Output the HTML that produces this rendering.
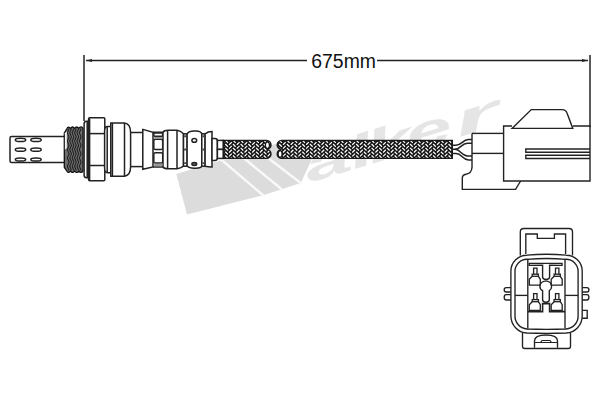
<!DOCTYPE html>
<html><head><meta charset="utf-8">
<style>
html,body{margin:0;padding:0;background:#fff;}
body{width:600px;height:400px;overflow:hidden;}
svg{display:block;}
</style></head><body>
<svg width="600" height="400" viewBox="0 0 600 400">
<defs>
</defs>
<rect width="600" height="400" fill="#fff"/>

<!-- Walker watermark -->
<g id="wm" fill="#e5e5e5">
<polygon fill="#dcdcdc" points="176.3,174 290,139.5 316,150 300.8,183 263.3,195.2 187,214.5"/>
<g font-family="Liberation Sans, sans-serif" font-weight="bold" font-style="italic" font-size="50" transform="translate(309,183) rotate(-17)">
<text transform="translate(0,0) scale(1.687,0.9)">a</text>
<text transform="translate(46.9,0) scale(1.687,0.9)">l</text>
<text transform="translate(65,0) scale(1.687,0.9)">k</text>
<text transform="translate(105.8,0) scale(1.687,0.9)">e</text>
<text transform="translate(156.4,0) scale(2.36,0.9)">r</text>
</g>
</g>
<g stroke="#f9f9f9" stroke-width="2.4">
<line x1="210" y1="150" x2="264.5" y2="196.5"/>
<line x1="223" y1="141" x2="282" y2="189.5"/>
<line x1="246" y1="141" x2="302" y2="184"/>
</g>

<g fill="none" stroke="#222" stroke-width="1.5">
<!-- dimension lines -->
<line x1="84" y1="55" x2="84" y2="121"/>
<line x1="590" y1="55" x2="590" y2="127"/>
<line x1="86" y1="60.5" x2="307" y2="60.5"/>
<line x1="377" y1="60.5" x2="588" y2="60.5"/>
</g>
<path d="M86,60.5 L92,59 L92,62 Z" fill="#222"/>
<path d="M588,60.5 L582,59 L582,62 Z" fill="#222"/>
<text x="311.3" y="67.6" font-family="Liberation Sans, sans-serif" font-size="19.4" fill="#111">675mm</text>

<!-- probe -->
<g fill="#fff" stroke="#222" stroke-width="1.5">
<rect x="10" y="136.5" width="56" height="26" rx="1.5"/>
<ellipse cx="20.5" cy="139.9" rx="5.2" ry="1.6"/>
<ellipse cx="36" cy="139.9" rx="5.2" ry="1.6"/>
<ellipse cx="20.5" cy="149.7" rx="5.2" ry="1.6"/>
<ellipse cx="36" cy="149.7" rx="5.2" ry="1.6"/>
<ellipse cx="20.5" cy="159.5" rx="5.2" ry="1.6"/>
<ellipse cx="36" cy="159.5" rx="5.2" ry="1.6"/>
</g>

<!-- thread -->
<path d="M64.3,133 L66.8,128.8 Q68.4,125.6 70.4,128.4 Q72.6,125.6 74.6,128.4 Q76.8,125.6 78.8,128.4 Q80.7,125.6 83,128.2 L83,171 Q81,173.8 79,171.1 Q76.9,173.8 74.7,171.1 Q72.5,173.8 70.3,171.1 Q68.1,173.8 66.8,171 L64.3,167.2 Z" fill="#6e6e6e" stroke="#111" stroke-width="1.3"/>
<path d="M69.1,128.5 L67.3,132.7 L69.1,136.9 L67.3,141.1 L69.1,145.3 L67.3,149.5 L69.1,153.7 L67.3,157.9 L69.1,162.1 L67.3,166.3 L69.1,170.5 M71.5,128.5 L69.7,132.7 L71.5,136.9 L69.7,141.1 L71.5,145.3 L69.7,149.5 L71.5,153.7 L69.7,157.9 L71.5,162.1 L69.7,166.3 L71.5,170.5 M73.9,128.5 L72.1,132.7 L73.9,136.9 L72.1,141.1 L73.9,145.3 L72.1,149.5 L73.9,153.7 L72.1,157.9 L73.9,162.1 L72.1,166.3 L73.9,170.5 M76.3,128.5 L74.5,132.7 L76.3,136.9 L74.5,141.1 L76.3,145.3 L74.5,149.5 L76.3,153.7 L74.5,157.9 L76.3,162.1 L74.5,166.3 L76.3,170.5 M78.7,128.5 L76.9,132.7 L78.7,136.9 L76.9,141.1 L78.7,145.3 L76.9,149.5 L78.7,153.7 L76.9,157.9 L78.7,162.1 L76.9,166.3 L78.7,170.5 M81.1,128.5 L79.3,132.7 L81.1,136.9 L79.3,141.1 L81.1,145.3 L79.3,149.5 L81.1,153.7 L79.3,157.9 L81.1,162.1 L79.3,166.3 L81.1,170.5 " stroke="#1e1e1e" stroke-width="1.05" fill="none"/>
<path d="M64.9,133.2 L66.8,131.2 L66.8,148 L64.9,149.8 Z" fill="#f4f4f4"/>
<g fill="#fff" stroke="#222" stroke-width="1.5">
<!-- washer -->
<path d="M88,121.3 L86.6,121.3 Q84.1,121.3 84.1,124 L84.1,175 Q84.1,177.8 86.6,177.8 L88,177.8 Z"/>
<line x1="87.2" y1="121.5" x2="87.2" y2="177.5"/>
<!-- hex nut -->
<rect x="88.6" y="117.8" width="16.2" height="63" rx="1"/>
<line x1="88.6" y1="133.6" x2="104.8" y2="133.6"/>
<line x1="88.6" y1="165.5" x2="104.8" y2="165.5"/>
<line x1="89.6" y1="118.5" x2="89.6" y2="180"/>
<!-- ring -->
<path d="M111,126.4 L107.5,126.4 Q104.6,126.4 104.6,131 L104.6,168 Q104.6,172.7 107.5,172.7 L111,172.7 Z"/>
<line x1="107.2" y1="127" x2="107.2" y2="172"/>
<!-- neck -->
<rect x="129" y="132.5" width="14" height="34.1"/>
<!-- cylinder -->
<path d="M110.8,122.9 L124.5,122.9 Q130.6,123.5 130.6,132.5 L130.6,166.6 Q130.6,175.6 124.5,176.2 L110.8,176.2 Z"/>
<line x1="112.4" y1="123" x2="112.4" y2="176"/>
<line x1="124.5" y1="123" x2="124.5" y2="176"/>

<!-- crimp flare -->
<path d="M142.8,129.4 L153,132.2 L153,167 L142.8,169.2 Z"/>
<!-- window section -->
<path d="M153,132.3 L163,132.3 M153,167 L163,167"/>
<rect x="153.8" y="132.9" width="8.9" height="3.4" rx="1"/>
<rect x="153.8" y="139.3" width="8.9" height="10.3" rx="1.6"/>
<rect x="153.8" y="152.7" width="8.9" height="10.3" rx="1.6"/>
<!-- bulb 1 -->
<path d="M163,132.3 Q164,130.3 168,130.3 L177,130.3 Q180.5,130.8 183.5,133.8 L183.5,166.2 Q180.5,168.4 177,168.7 L168,168.7 Q164,168.7 163,167 Z"/>
<line x1="167.6" y1="130.5" x2="167.6" y2="168.5"/>
<line x1="177" y1="130.5" x2="177" y2="168.5"/>
<!-- dashed band 1 -->
<rect x="183.5" y="133.8" width="3.6" height="32.4"/>
<!-- bulb 2 -->
<path d="M187.1,133.8 Q189,131 194,131 L196,131 Q201,131 201.8,134 L201.8,166 Q201,168.2 196,168.2 L194,168.2 Q189,168.2 187.1,166 Z"/>
<ellipse cx="194.3" cy="140.4" rx="2.4" ry="1.8"/>
<ellipse cx="194.3" cy="164" rx="2.4" ry="1.5" fill="#666"/>
<!-- dashed band 2 -->
<rect x="201.8" y="133.8" width="3.3" height="32.4"/>
<!-- flare 2 -->
<path d="M205.1,133.8 Q208,131.5 212,131.5 L212,167 Q208,167 205.1,166.2 Z"/>
<!-- stub -->
<path d="M212,138.5 L215,138.5 Q217.4,138.5 217.4,141 L217.4,158 Q217.4,160.4 215,160.4 L212,160.4 Z"/>
</g>
<g fill="#444">
<rect x="184.1" y="135.3" width="2.4" height="1.9" rx="0.6"/>
<rect x="184.1" y="148.6" width="2.4" height="1.9" rx="0.6"/>
<rect x="184.1" y="162.2" width="2.4" height="1.9" rx="0.6"/>
<rect x="202.4" y="135.3" width="2.1" height="1.9" rx="0.6"/>
<rect x="202.4" y="148.6" width="2.1" height="1.9" rx="0.6"/>
<rect x="202.4" y="162.2" width="2.1" height="1.9" rx="0.6"/>
</g>
<g fill="#999">
<rect x="154.2" y="137" width="8.1" height="1.6"/>
<rect x="154.2" y="163.8" width="8.1" height="2.4"/>
</g>

<!-- cable 1 -->
<clipPath id="cc"><path d="M223.4,140.4 L266.5,140.4 A4.5,4.5 0 0 1 266.5,149.4 A4.5,4.5 0 0 1 266.5,158.4 L223.4,158.4 Z M281.7,140.4 L452.3,140.4 L452.3,158.4 L281.7,158.4 A4.5,4.5 0 0 1 281.7,149.4 A4.5,4.5 0 0 1 281.7,140.4 Z"/></clipPath>
<g stroke="#222" stroke-width="1.5">
<rect x="217.4" y="140.4" width="6" height="9" fill="#fff"/>
<rect x="217.4" y="149.4" width="6" height="9" fill="#fff"/>
</g>
<path d="M223.4,140.4 L266.5,140.4 A4.5,4.5 0 0 1 266.5,149.4 A4.5,4.5 0 0 1 266.5,158.4 L223.4,158.4 Z M281.7,140.4 L452.3,140.4 L452.3,158.4 L281.7,158.4 A4.5,4.5 0 0 1 281.7,149.4 A4.5,4.5 0 0 1 281.7,140.4 Z" fill="#151515"/>
<path clip-path="url(#cc)" stroke="#fff" stroke-width="1.25" d="M209.85,136.30L212.55,139.00M213.70,140.93L216.40,138.23M209.85,140.15L212.55,142.85M213.70,144.78L216.40,142.08M209.85,144.00L212.55,146.70M213.70,148.63L216.40,145.93M209.85,147.85L212.55,150.55M213.70,152.48L216.40,149.78M209.85,151.70L212.55,154.40M213.70,156.33L216.40,153.63M209.85,155.55L212.55,158.25M213.70,160.18L216.40,157.48M209.85,159.40L212.55,162.10M213.70,164.03L216.40,161.33M209.85,163.25L212.55,165.95M213.70,167.88L216.40,165.18M217.55,136.30L220.25,139.00M221.40,140.93L224.10,138.23M217.55,140.15L220.25,142.85M221.40,144.78L224.10,142.08M217.55,144.00L220.25,146.70M221.40,148.63L224.10,145.93M217.55,147.85L220.25,150.55M221.40,152.48L224.10,149.78M217.55,151.70L220.25,154.40M221.40,156.33L224.10,153.63M217.55,155.55L220.25,158.25M221.40,160.18L224.10,157.48M217.55,159.40L220.25,162.10M221.40,164.03L224.10,161.33M217.55,163.25L220.25,165.95M221.40,167.88L224.10,165.18M225.25,136.30L227.95,139.00M229.10,140.93L231.80,138.23M225.25,140.15L227.95,142.85M229.10,144.78L231.80,142.08M225.25,144.00L227.95,146.70M229.10,148.63L231.80,145.93M225.25,147.85L227.95,150.55M229.10,152.48L231.80,149.78M225.25,151.70L227.95,154.40M229.10,156.33L231.80,153.63M225.25,155.55L227.95,158.25M229.10,160.18L231.80,157.48M225.25,159.40L227.95,162.10M229.10,164.03L231.80,161.33M225.25,163.25L227.95,165.95M229.10,167.88L231.80,165.18M232.95,136.30L235.65,139.00M236.80,140.93L239.50,138.23M232.95,140.15L235.65,142.85M236.80,144.78L239.50,142.08M232.95,144.00L235.65,146.70M236.80,148.63L239.50,145.93M232.95,147.85L235.65,150.55M236.80,152.48L239.50,149.78M232.95,151.70L235.65,154.40M236.80,156.33L239.50,153.63M232.95,155.55L235.65,158.25M236.80,160.18L239.50,157.48M232.95,159.40L235.65,162.10M236.80,164.03L239.50,161.33M232.95,163.25L235.65,165.95M236.80,167.88L239.50,165.18M240.65,136.30L243.35,139.00M244.50,140.93L247.20,138.23M240.65,140.15L243.35,142.85M244.50,144.78L247.20,142.08M240.65,144.00L243.35,146.70M244.50,148.63L247.20,145.93M240.65,147.85L243.35,150.55M244.50,152.48L247.20,149.78M240.65,151.70L243.35,154.40M244.50,156.33L247.20,153.63M240.65,155.55L243.35,158.25M244.50,160.18L247.20,157.48M240.65,159.40L243.35,162.10M244.50,164.03L247.20,161.33M240.65,163.25L243.35,165.95M244.50,167.88L247.20,165.18M248.35,136.30L251.05,139.00M252.20,140.93L254.90,138.23M248.35,140.15L251.05,142.85M252.20,144.78L254.90,142.08M248.35,144.00L251.05,146.70M252.20,148.63L254.90,145.93M248.35,147.85L251.05,150.55M252.20,152.48L254.90,149.78M248.35,151.70L251.05,154.40M252.20,156.33L254.90,153.63M248.35,155.55L251.05,158.25M252.20,160.18L254.90,157.48M248.35,159.40L251.05,162.10M252.20,164.03L254.90,161.33M248.35,163.25L251.05,165.95M252.20,167.88L254.90,165.18M256.05,136.30L258.75,139.00M259.90,140.93L262.60,138.23M256.05,140.15L258.75,142.85M259.90,144.78L262.60,142.08M256.05,144.00L258.75,146.70M259.90,148.63L262.60,145.93M256.05,147.85L258.75,150.55M259.90,152.48L262.60,149.78M256.05,151.70L258.75,154.40M259.90,156.33L262.60,153.63M256.05,155.55L258.75,158.25M259.90,160.18L262.60,157.48M256.05,159.40L258.75,162.10M259.90,164.03L262.60,161.33M256.05,163.25L258.75,165.95M259.90,167.88L262.60,165.18M263.75,136.30L266.45,139.00M267.60,140.93L270.30,138.23M263.75,140.15L266.45,142.85M267.60,144.78L270.30,142.08M263.75,144.00L266.45,146.70M267.60,148.63L270.30,145.93M263.75,147.85L266.45,150.55M267.60,152.48L270.30,149.78M263.75,151.70L266.45,154.40M267.60,156.33L270.30,153.63M263.75,155.55L266.45,158.25M267.60,160.18L270.30,157.48M263.75,159.40L266.45,162.10M267.60,164.03L270.30,161.33M263.75,163.25L266.45,165.95M267.60,167.88L270.30,165.18M271.45,136.30L274.15,139.00M275.30,140.93L278.00,138.23M271.45,140.15L274.15,142.85M275.30,144.78L278.00,142.08M271.45,144.00L274.15,146.70M275.30,148.63L278.00,145.93M271.45,147.85L274.15,150.55M275.30,152.48L278.00,149.78M271.45,151.70L274.15,154.40M275.30,156.33L278.00,153.63M271.45,155.55L274.15,158.25M275.30,160.18L278.00,157.48M271.45,159.40L274.15,162.10M275.30,164.03L278.00,161.33M271.45,163.25L274.15,165.95M275.30,167.88L278.00,165.18M279.15,136.30L281.85,139.00M283.00,140.93L285.70,138.23M279.15,140.15L281.85,142.85M283.00,144.78L285.70,142.08M279.15,144.00L281.85,146.70M283.00,148.63L285.70,145.93M279.15,147.85L281.85,150.55M283.00,152.48L285.70,149.78M279.15,151.70L281.85,154.40M283.00,156.33L285.70,153.63M279.15,155.55L281.85,158.25M283.00,160.18L285.70,157.48M279.15,159.40L281.85,162.10M283.00,164.03L285.70,161.33M279.15,163.25L281.85,165.95M283.00,167.88L285.70,165.18M286.85,136.30L289.55,139.00M290.70,140.93L293.40,138.23M286.85,140.15L289.55,142.85M290.70,144.78L293.40,142.08M286.85,144.00L289.55,146.70M290.70,148.63L293.40,145.93M286.85,147.85L289.55,150.55M290.70,152.48L293.40,149.78M286.85,151.70L289.55,154.40M290.70,156.33L293.40,153.63M286.85,155.55L289.55,158.25M290.70,160.18L293.40,157.48M286.85,159.40L289.55,162.10M290.70,164.03L293.40,161.33M286.85,163.25L289.55,165.95M290.70,167.88L293.40,165.18M294.55,136.30L297.25,139.00M298.40,140.93L301.10,138.23M294.55,140.15L297.25,142.85M298.40,144.78L301.10,142.08M294.55,144.00L297.25,146.70M298.40,148.63L301.10,145.93M294.55,147.85L297.25,150.55M298.40,152.48L301.10,149.78M294.55,151.70L297.25,154.40M298.40,156.33L301.10,153.63M294.55,155.55L297.25,158.25M298.40,160.18L301.10,157.48M294.55,159.40L297.25,162.10M298.40,164.03L301.10,161.33M294.55,163.25L297.25,165.95M298.40,167.88L301.10,165.18M302.25,136.30L304.95,139.00M306.10,140.93L308.80,138.23M302.25,140.15L304.95,142.85M306.10,144.78L308.80,142.08M302.25,144.00L304.95,146.70M306.10,148.63L308.80,145.93M302.25,147.85L304.95,150.55M306.10,152.48L308.80,149.78M302.25,151.70L304.95,154.40M306.10,156.33L308.80,153.63M302.25,155.55L304.95,158.25M306.10,160.18L308.80,157.48M302.25,159.40L304.95,162.10M306.10,164.03L308.80,161.33M302.25,163.25L304.95,165.95M306.10,167.88L308.80,165.18M309.95,136.30L312.65,139.00M313.80,140.93L316.50,138.23M309.95,140.15L312.65,142.85M313.80,144.78L316.50,142.08M309.95,144.00L312.65,146.70M313.80,148.63L316.50,145.93M309.95,147.85L312.65,150.55M313.80,152.48L316.50,149.78M309.95,151.70L312.65,154.40M313.80,156.33L316.50,153.63M309.95,155.55L312.65,158.25M313.80,160.18L316.50,157.48M309.95,159.40L312.65,162.10M313.80,164.03L316.50,161.33M309.95,163.25L312.65,165.95M313.80,167.88L316.50,165.18M317.65,136.30L320.35,139.00M321.50,140.93L324.20,138.23M317.65,140.15L320.35,142.85M321.50,144.78L324.20,142.08M317.65,144.00L320.35,146.70M321.50,148.63L324.20,145.93M317.65,147.85L320.35,150.55M321.50,152.48L324.20,149.78M317.65,151.70L320.35,154.40M321.50,156.33L324.20,153.63M317.65,155.55L320.35,158.25M321.50,160.18L324.20,157.48M317.65,159.40L320.35,162.10M321.50,164.03L324.20,161.33M317.65,163.25L320.35,165.95M321.50,167.88L324.20,165.18M325.35,136.30L328.05,139.00M329.20,140.93L331.90,138.23M325.35,140.15L328.05,142.85M329.20,144.78L331.90,142.08M325.35,144.00L328.05,146.70M329.20,148.63L331.90,145.93M325.35,147.85L328.05,150.55M329.20,152.48L331.90,149.78M325.35,151.70L328.05,154.40M329.20,156.33L331.90,153.63M325.35,155.55L328.05,158.25M329.20,160.18L331.90,157.48M325.35,159.40L328.05,162.10M329.20,164.03L331.90,161.33M325.35,163.25L328.05,165.95M329.20,167.88L331.90,165.18M333.05,136.30L335.75,139.00M336.90,140.93L339.60,138.23M333.05,140.15L335.75,142.85M336.90,144.78L339.60,142.08M333.05,144.00L335.75,146.70M336.90,148.63L339.60,145.93M333.05,147.85L335.75,150.55M336.90,152.48L339.60,149.78M333.05,151.70L335.75,154.40M336.90,156.33L339.60,153.63M333.05,155.55L335.75,158.25M336.90,160.18L339.60,157.48M333.05,159.40L335.75,162.10M336.90,164.03L339.60,161.33M333.05,163.25L335.75,165.95M336.90,167.88L339.60,165.18M340.75,136.30L343.45,139.00M344.60,140.93L347.30,138.23M340.75,140.15L343.45,142.85M344.60,144.78L347.30,142.08M340.75,144.00L343.45,146.70M344.60,148.63L347.30,145.93M340.75,147.85L343.45,150.55M344.60,152.48L347.30,149.78M340.75,151.70L343.45,154.40M344.60,156.33L347.30,153.63M340.75,155.55L343.45,158.25M344.60,160.18L347.30,157.48M340.75,159.40L343.45,162.10M344.60,164.03L347.30,161.33M340.75,163.25L343.45,165.95M344.60,167.88L347.30,165.18M348.45,136.30L351.15,139.00M352.30,140.93L355.00,138.23M348.45,140.15L351.15,142.85M352.30,144.78L355.00,142.08M348.45,144.00L351.15,146.70M352.30,148.63L355.00,145.93M348.45,147.85L351.15,150.55M352.30,152.48L355.00,149.78M348.45,151.70L351.15,154.40M352.30,156.33L355.00,153.63M348.45,155.55L351.15,158.25M352.30,160.18L355.00,157.48M348.45,159.40L351.15,162.10M352.30,164.03L355.00,161.33M348.45,163.25L351.15,165.95M352.30,167.88L355.00,165.18M356.15,136.30L358.85,139.00M360.00,140.93L362.70,138.23M356.15,140.15L358.85,142.85M360.00,144.78L362.70,142.08M356.15,144.00L358.85,146.70M360.00,148.63L362.70,145.93M356.15,147.85L358.85,150.55M360.00,152.48L362.70,149.78M356.15,151.70L358.85,154.40M360.00,156.33L362.70,153.63M356.15,155.55L358.85,158.25M360.00,160.18L362.70,157.48M356.15,159.40L358.85,162.10M360.00,164.03L362.70,161.33M356.15,163.25L358.85,165.95M360.00,167.88L362.70,165.18M363.85,136.30L366.55,139.00M367.70,140.93L370.40,138.23M363.85,140.15L366.55,142.85M367.70,144.78L370.40,142.08M363.85,144.00L366.55,146.70M367.70,148.63L370.40,145.93M363.85,147.85L366.55,150.55M367.70,152.48L370.40,149.78M363.85,151.70L366.55,154.40M367.70,156.33L370.40,153.63M363.85,155.55L366.55,158.25M367.70,160.18L370.40,157.48M363.85,159.40L366.55,162.10M367.70,164.03L370.40,161.33M363.85,163.25L366.55,165.95M367.70,167.88L370.40,165.18M371.55,136.30L374.25,139.00M375.40,140.93L378.10,138.23M371.55,140.15L374.25,142.85M375.40,144.78L378.10,142.08M371.55,144.00L374.25,146.70M375.40,148.63L378.10,145.93M371.55,147.85L374.25,150.55M375.40,152.48L378.10,149.78M371.55,151.70L374.25,154.40M375.40,156.33L378.10,153.63M371.55,155.55L374.25,158.25M375.40,160.18L378.10,157.48M371.55,159.40L374.25,162.10M375.40,164.03L378.10,161.33M371.55,163.25L374.25,165.95M375.40,167.88L378.10,165.18M379.25,136.30L381.95,139.00M383.10,140.93L385.80,138.23M379.25,140.15L381.95,142.85M383.10,144.78L385.80,142.08M379.25,144.00L381.95,146.70M383.10,148.63L385.80,145.93M379.25,147.85L381.95,150.55M383.10,152.48L385.80,149.78M379.25,151.70L381.95,154.40M383.10,156.33L385.80,153.63M379.25,155.55L381.95,158.25M383.10,160.18L385.80,157.48M379.25,159.40L381.95,162.10M383.10,164.03L385.80,161.33M379.25,163.25L381.95,165.95M383.10,167.88L385.80,165.18M386.95,136.30L389.65,139.00M390.80,140.93L393.50,138.23M386.95,140.15L389.65,142.85M390.80,144.78L393.50,142.08M386.95,144.00L389.65,146.70M390.80,148.63L393.50,145.93M386.95,147.85L389.65,150.55M390.80,152.48L393.50,149.78M386.95,151.70L389.65,154.40M390.80,156.33L393.50,153.63M386.95,155.55L389.65,158.25M390.80,160.18L393.50,157.48M386.95,159.40L389.65,162.10M390.80,164.03L393.50,161.33M386.95,163.25L389.65,165.95M390.80,167.88L393.50,165.18M394.65,136.30L397.35,139.00M398.50,140.93L401.20,138.23M394.65,140.15L397.35,142.85M398.50,144.78L401.20,142.08M394.65,144.00L397.35,146.70M398.50,148.63L401.20,145.93M394.65,147.85L397.35,150.55M398.50,152.48L401.20,149.78M394.65,151.70L397.35,154.40M398.50,156.33L401.20,153.63M394.65,155.55L397.35,158.25M398.50,160.18L401.20,157.48M394.65,159.40L397.35,162.10M398.50,164.03L401.20,161.33M394.65,163.25L397.35,165.95M398.50,167.88L401.20,165.18M402.35,136.30L405.05,139.00M406.20,140.93L408.90,138.23M402.35,140.15L405.05,142.85M406.20,144.78L408.90,142.08M402.35,144.00L405.05,146.70M406.20,148.63L408.90,145.93M402.35,147.85L405.05,150.55M406.20,152.48L408.90,149.78M402.35,151.70L405.05,154.40M406.20,156.33L408.90,153.63M402.35,155.55L405.05,158.25M406.20,160.18L408.90,157.48M402.35,159.40L405.05,162.10M406.20,164.03L408.90,161.33M402.35,163.25L405.05,165.95M406.20,167.88L408.90,165.18M410.05,136.30L412.75,139.00M413.90,140.93L416.60,138.23M410.05,140.15L412.75,142.85M413.90,144.78L416.60,142.08M410.05,144.00L412.75,146.70M413.90,148.63L416.60,145.93M410.05,147.85L412.75,150.55M413.90,152.48L416.60,149.78M410.05,151.70L412.75,154.40M413.90,156.33L416.60,153.63M410.05,155.55L412.75,158.25M413.90,160.18L416.60,157.48M410.05,159.40L412.75,162.10M413.90,164.03L416.60,161.33M410.05,163.25L412.75,165.95M413.90,167.88L416.60,165.18M417.75,136.30L420.45,139.00M421.60,140.93L424.30,138.23M417.75,140.15L420.45,142.85M421.60,144.78L424.30,142.08M417.75,144.00L420.45,146.70M421.60,148.63L424.30,145.93M417.75,147.85L420.45,150.55M421.60,152.48L424.30,149.78M417.75,151.70L420.45,154.40M421.60,156.33L424.30,153.63M417.75,155.55L420.45,158.25M421.60,160.18L424.30,157.48M417.75,159.40L420.45,162.10M421.60,164.03L424.30,161.33M417.75,163.25L420.45,165.95M421.60,167.88L424.30,165.18M425.45,136.30L428.15,139.00M429.30,140.93L432.00,138.23M425.45,140.15L428.15,142.85M429.30,144.78L432.00,142.08M425.45,144.00L428.15,146.70M429.30,148.63L432.00,145.93M425.45,147.85L428.15,150.55M429.30,152.48L432.00,149.78M425.45,151.70L428.15,154.40M429.30,156.33L432.00,153.63M425.45,155.55L428.15,158.25M429.30,160.18L432.00,157.48M425.45,159.40L428.15,162.10M429.30,164.03L432.00,161.33M425.45,163.25L428.15,165.95M429.30,167.88L432.00,165.18M433.15,136.30L435.85,139.00M437.00,140.93L439.70,138.23M433.15,140.15L435.85,142.85M437.00,144.78L439.70,142.08M433.15,144.00L435.85,146.70M437.00,148.63L439.70,145.93M433.15,147.85L435.85,150.55M437.00,152.48L439.70,149.78M433.15,151.70L435.85,154.40M437.00,156.33L439.70,153.63M433.15,155.55L435.85,158.25M437.00,160.18L439.70,157.48M433.15,159.40L435.85,162.10M437.00,164.03L439.70,161.33M433.15,163.25L435.85,165.95M437.00,167.88L439.70,165.18M440.85,136.30L443.55,139.00M444.70,140.93L447.40,138.23M440.85,140.15L443.55,142.85M444.70,144.78L447.40,142.08M440.85,144.00L443.55,146.70M444.70,148.63L447.40,145.93M440.85,147.85L443.55,150.55M444.70,152.48L447.40,149.78M440.85,151.70L443.55,154.40M444.70,156.33L447.40,153.63M440.85,155.55L443.55,158.25M444.70,160.18L447.40,157.48M440.85,159.40L443.55,162.10M444.70,164.03L447.40,161.33M440.85,163.25L443.55,165.95M444.70,167.88L447.40,165.18M448.55,136.30L451.25,139.00M452.40,140.93L455.10,138.23M448.55,140.15L451.25,142.85M452.40,144.78L455.10,142.08M448.55,144.00L451.25,146.70M452.40,148.63L455.10,145.93M448.55,147.85L451.25,150.55M452.40,152.48L455.10,149.78M448.55,151.70L451.25,154.40M452.40,156.33L455.10,153.63M448.55,155.55L451.25,158.25M452.40,160.18L455.10,157.48M448.55,159.40L451.25,162.10M452.40,164.03L455.10,161.33M448.55,163.25L451.25,165.95M452.40,167.88L455.10,165.18M456.25,136.30L458.95,139.00M460.10,140.93L462.80,138.23M456.25,140.15L458.95,142.85M460.10,144.78L462.80,142.08M456.25,144.00L458.95,146.70M460.10,148.63L462.80,145.93M456.25,147.85L458.95,150.55M460.10,152.48L462.80,149.78M456.25,151.70L458.95,154.40M460.10,156.33L462.80,153.63M456.25,155.55L458.95,158.25M460.10,160.18L462.80,157.48M456.25,159.40L458.95,162.10M460.10,164.03L462.80,161.33M456.25,163.25L458.95,165.95M460.10,167.88L462.80,165.18"/>
<path d="M223.4,140.4 L266.5,140.4 A4.5,4.5 0 0 1 266.5,149.4 A4.5,4.5 0 0 1 266.5,158.4 L223.4,158.4 Z M281.7,140.4 L452.3,140.4 L452.3,158.4 L281.7,158.4 A4.5,4.5 0 0 1 281.7,149.4 A4.5,4.5 0 0 1 281.7,140.4 Z" fill="none" stroke="#1a1a1a" stroke-width="1.4"/>
<ellipse cx="267.4" cy="145.2" rx="2.6" ry="3.9" fill="#151515"/><ellipse cx="267.4" cy="145.2" rx="1.4" ry="2.7" fill="#fff"/>
<ellipse cx="280.1" cy="154" rx="2.6" ry="3.9" fill="#151515"/><ellipse cx="280.1" cy="154" rx="1.4" ry="2.7" fill="#fff"/>

<!-- wires -->
<g fill="none" stroke="#222" stroke-width="1.5">
<path d="M452.3,145.2 L456,145.2 C462,145.2 462.5,139.6 468.5,139.6 L472,139.6"/>
<path d="M452.3,149.3 L455,149.3 C460.5,149.3 461.5,143.2 467.5,143.2 L472,143.2"/>
<path d="M455,149.3 C460.5,149.3 461.5,156 467.5,156 L472,156"/>
<path d="M452.3,153.6 L456,153.6 C462,153.6 462.5,160 468.5,160 L472,160"/>
</g>

<!-- connector -->
<g fill="none" stroke="#222" stroke-width="1.4">
<path d="M472,133.4 L503.6,133.4"/>
<path d="M472,153.4 L503.6,153.4"/>
<path d="M472,133.4 L472,167.5 Q471.5,173.5 466,174.2 Q462.3,174.8 462.3,178 L462.3,189.4 L515.6,189.4 L520.6,181"/>
<path d="M512,126 L503.6,126 L503.6,181 L590,181 L590,126 L573,126"/>
<path d="M512,128.4 L531.3,109.6 L562,109.6 Q566,109.6 567,113 L572.8,128.4 Z"/>
<path d="M590,149 L525.8,149 L525.8,152.2 L590,152.2 M590,155.2 L525.8,155.2 L525.8,158.5 L590,158.5"/>
</g>

<!-- connector face -->
<g fill="none" stroke="#222" stroke-width="1.35">
<path d="M520.3,255.5 L520.3,232 Q520.3,228.5 524,228.5 L569,228.5 Q572.5,228.5 572.5,232 L572.5,255.5"/>
<path d="M525.8,254 L525.8,234 L537.3,234 L537.3,238.3 L554.4,238.3 L554.4,234 L565.6,234 L565.6,254"/>
<path d="M510.9,271 A16,16 0 0 1 526.9,255.2 Q546.5,253.2 566.2,255.2 A16,16 0 0 1 582.2,271 L582.2,316 A17,17 0 0 1 566.2,333 Q546.5,333.6 526.9,333 A17,17 0 0 1 510.9,316 Z" fill="#fff"/>
<path d="M515,271 A12,12 0 0 1 527,259.3 Q546.5,257.6 566,259.3 A12,12 0 0 1 578.1,271 L578.1,315 A13,13 0 0 1 566,329 Q546.5,329.6 527,329 A13,13 0 0 1 515,315 Z"/>
<path d="M527.8,328.8 L527.8,258.8 M565,258.8 L565,328.8"/>
<line x1="515" y1="295.4" x2="527.8" y2="295.4"/>
<line x1="565" y1="295.4" x2="578.1" y2="295.4"/>
<!-- side ribs -->
<path d="M510.9,287.6 L506.2,287.6 Q504.2,287.6 504.2,289.8 Q504.2,292 506.2,292 L510.9,292"/>
<path d="M510.9,294.6 L506.2,294.6 Q504.2,294.6 504.2,297.3 Q504.2,300 506.2,300 L510.9,300"/>
<path d="M582.2,287.6 L586.9,287.6 Q588.9,287.6 588.9,289.8 Q588.9,292 586.9,292 L582.2,292"/>
<path d="M582.2,294.6 L586.9,294.6 Q588.9,294.6 588.9,297.3 Q588.9,300 586.9,300 L582.2,300"/>
<path d="M582.2,310.3 L587.2,310.3 L587.2,318.2 L582.2,318.2"/>
<!-- bottom tab -->
<path d="M522.5,333 L522.5,346.3 Q522.5,348.5 524.7,348.5 L568.3,348.5 Q570.5,348.5 570.5,346.3 L570.5,333"/>
<path d="M534.5,347.8 L534.5,341 Q534.5,335 546,335 Q557.5,335 557.5,341 L557.5,347.8"/>
<path d="M534.5,342.5 L557.5,342.5 M540.5,342.5 L542,340.5 L550,340.5 L551.5,342.5" stroke-width="1.2"/>
<!-- T bar -->
<path d="M529.2,265.4 L529.2,263.4 L562,263.4 L562,265.4 L549.6,265.3 L549.6,277 Q549.6,279.4 546.1,279.4 Q542.6,279.4 542.6,277 L542.6,265.3 Z" stroke-width="1.4"/>
<!-- keyhole -->
<path d="M546,280.9 Q551.6,281.6 551.6,286.4 Q551.6,289.2 549.3,290.6 L549.3,299.8 Q549.3,302.2 546,302.2 Q542.6,302.2 542.6,299.8 L542.6,290.6 Q539.9,289.2 539.9,286.4 Q539.9,281.6 546,280.9 Z" stroke-width="1.4"/>
<!-- pins -->
<g id="pin" stroke-width="1.3">
<path d="M533.6,274.2 L533.6,268.2 L537,268.2 L537,274.2"/>
<rect x="532.2" y="274.2" width="6.2" height="2.1"/>
<path d="M532.2,276.3 L529.3,279.3 L529.3,285.1 L540.3,285.1 L540.3,279.3 L538.4,276.3"/>
</g>
<use href="#pin" x="21.9"/>
<use href="#pin" y="25.4"/>
<use href="#pin" x="21.9" y="25.4"/>
<path d="M527.8,311.6 L542.6,311.6 L542.6,303.6 L549.6,303.6 L549.6,311.6 L565,311.6" stroke-width="1.6"/>
</g>
</svg>
</body></html>
